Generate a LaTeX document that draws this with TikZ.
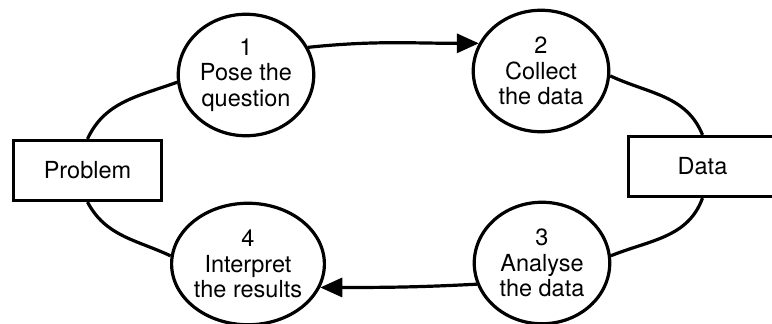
\documentclass[tikz,border=0pt]{standalone}
\usepackage{fontspec}
\setmainfont{TeX Gyre Heros}
\usetikzlibrary{arrows.meta, shapes.geometric}

\begin{document}
\begin{tikzpicture}[x = 1pt, y = 1pt]
\tikzstyle{VertexStyle}=[shape = ellipse,
                         draw,
                         line width = 3.2pt,
                         minimum width = 135.5pt,
                         minimum height = 121.5pt,
                         inner sep = 0pt,
                         align = center,
                         font = \fontsize{23.5}{25.5}\selectfont]
\tikzstyle{BoxStyle}=[shape = rectangle,
                      draw,
                      line width = 3.2pt,
                      minimum width = 148pt,
                      minimum height = 60pt,
                      font = \fontsize{23.5}{25.5}\selectfont]
\tikzstyle{EdgeStyle}=[line width = 3.2pt]
\tikzstyle{post}=[-{Triangle[length = 22pt, width = 19pt]}]
\useasboundingbox (0, -324) rectangle (772, 0);
\node[BoxStyle] (v0) at (87.5, -170.5) {Problem};
\node[VertexStyle] (v1) at (246, -75) {1\\Pose the\\question};
\node[VertexStyle] (v2) at (541, -71) {2\\Collect\\the data};
\node[VertexStyle] (v3) at (542, -263) {3\\Analyse\\the data};
\node[VertexStyle] (v4) at (248, -264) {4\\Interpret\\the results};
\node[BoxStyle] (v5) at (702.5, -166.5) {Data};
\draw[EdgeStyle] (v0.north) to[out = 65, in = 200] (v1.186);
\draw[EdgeStyle, post] (v1.24) to[out = 6, in = 180] (v2.156);
\draw[EdgeStyle] (v2.-4) to[out = -25, in = 112] (v5.north);
\draw[EdgeStyle] (v5.south) to[out = -110, in = 22] (v3.6);
\draw[EdgeStyle, post] (v3.198) to[out = 183, in = 0] (v4.-18);
\draw[EdgeStyle] (v4.174) to[out = 155, in = -62] (v0.south);
\end{tikzpicture}
\end{document}
